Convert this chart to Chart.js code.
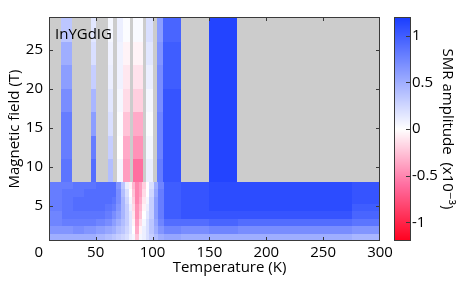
<!DOCTYPE html>
<html>
<head>
<meta charset="utf-8">
<script src="https://cdn.jsdelivr.net/npm/chart.js@4.4.0/dist/chart.umd.min.js"></script>
<style>
    html, body { margin: 0; padding: 0; background: #fff; }
    #wrap { width: 463px; height: 283px; }
</style>
</head>
<body>
<div id="wrap"><canvas id="smrChart" width="463" height="283"></canvas></div>
<script>
// axis ticks
const tempTicks = [0, 50, 100, 150, 200, 250, 300];
const fieldTicks = [5, 10, 15, 20, 25];
const colorTicks = [-1, -0.5, 0, 0.5, 1];

// low field part: full temperature sweep (cell edges in K and T)
const lowTempEdges = [9, 20, 30, 40, 50, 58, 64, 68, 72, 76, 79, 82, 85, 88, 91, 94, 97, 101, 105, 110, 125, 150, 175, 275, 300];
const lowFieldEdges = [0.5, 1.45, 2.4, 3.35, 4.3, 5.25, 6.2, 7.15, 8.1];
// one row per temperature column, values from low to high field (x10^-3)
const lowValues = [
    [0.5, 0.65, 0.75, 0.75, 0.8, 0.8, 0.8, 0.8],
    [0.5, 0.65, 0.8, 0.85, 0.85, 0.85, 0.85, 0.8],
    [0.5, 0.7, 0.8, 0.85, 0.9, 0.9, 0.85, 0.85],
    [0.5, 0.65, 0.8, 0.85, 0.9, 0.9, 0.9, 0.85],
    [0.45, 0.6, 0.75, 0.85, 0.9, 0.9, 0.9, 0.9],
    [0.4, 0.55, 0.7, 0.8, 0.85, 0.9, 0.9, 0.9],
    [0.35, 0.5, 0.6, 0.7, 0.8, 0.85, 0.9, 0.9],
    [0.3, 0.4, 0.5, 0.6, 0.65, 0.7, 0.7, 0.65],
    [0.25, 0.35, 0.4, 0.45, 0.45, 0.45, 0.4, 0.35],
    [0.2, 0.25, 0.3, 0.3, 0.3, 0.25, 0.2, 0.1],
    [0.1, 0.15, 0.15, 0.15, 0.1, 0.05, 0.0, -0.05],
    [0.05, 0.0, -0.05, -0.1, -0.15, -0.2, -0.25, -0.3],
    [-0.25, -0.35, -0.4, -0.45, -0.45, -0.5, -0.5, -0.5],
    [0.05, -0.05, -0.15, -0.25, -0.3, -0.35, -0.4, -0.4],
    [0.1, 0.1, 0.05, 0.0, -0.05, -0.1, -0.15, -0.2],
    [0.2, 0.2, 0.2, 0.15, 0.1, 0.05, 0.0, 0.0],
    [0.3, 0.35, 0.35, 0.3, 0.3, 0.3, 0.25, 0.2],
    [0.4, 0.5, 0.55, 0.6, 0.6, 0.6, 0.55, 0.5],
    [0.5, 0.65, 0.75, 0.8, 0.8, 0.8, 0.8, 0.75],
    [0.55, 0.75, 0.9, 1.0, 1.0, 1.0, 1.0, 1.0],
    [0.5, 0.7, 0.9, 1.05, 1.05, 1.05, 1.05, 1.05],
    [0.5, 0.75, 0.95, 1.05, 1.1, 1.1, 1.1, 1.1],
    [0.5, 0.7, 0.9, 1.05, 1.1, 1.1, 1.1, 1.1],
    [0.45, 0.65, 0.85, 0.95, 1.0, 1.05, 1.05, 1.05]
];

// high field part: only some temperatures were measured
const highTempStart = [19.3, 45.6, 60.8, 69, 74.3, 82.5, 94.2, 103.6, 109.2, 150];
const highTempEnd = [29.5, 50, 65, 74.3, 80.2, 91.9, 100.4, 109.2, 125, 174.5];
const highFieldEdges = [8.1, 11, 14, 17, 20, 23, 26, 29.2];
const highValues = [
    [0.85, 0.8, 0.8, 0.7, 0.6, 0.5, 0.35],
    [0.9, 0.8, 0.6, 0.45, 0.3, 0.2, 0.15],
    [0.4, 0.3, 0.2, 0.15, 0.1, 0.08, 0.05],
    [0.05, 0.0, 0.02, 0.05, 0.08, 0.08, 0.1],
    [-0.4, -0.35, -0.25, -0.15, -0.1, -0.05, 0.02],
    [-0.6, -0.45, -0.35, -0.2, -0.12, -0.05, 0.03],
    [0.1, 0.05, 0.02, 0.05, 0.1, 0.15, 0.2],
    [0.8, 0.75, 0.75, 0.7, 0.7, 0.65, 0.6],
    [1.05, 1.05, 1.05, 1.05, 1.0, 1.0, 0.95],
    [1.15, 1.15, 1.15, 1.15, 1.15, 1.15, 1.15]
];

const missingColor = 'rgb(204, 204, 204)';
const axisColor = '#3a3a3a';
const fontFamily = "'Open Sans', 'DejaVu Sans', sans-serif";

// red - white - blue map, +-1.2
function mapColor(v) {
    const t = Math.min(Math.abs(v) / 1.2, 1);
    let r, g, b;
    if (v >= 0) {
        r = 255 - t * (255 - 25);
        g = 255 - t * (255 - 60);
        b = 255;
    } else if (t < 0.5) {
        const s = t / 0.5;
        r = 255;
        g = 255 - s * (255 - 110);
        b = 255 - s * (255 - 160);
    } else {
        const s = (t - 0.5) / 0.5;
        r = 255;
        g = 110 - s * 110;
        b = 160 - s * (160 - 30);
    }
    return `rgb(${Math.round(r)}, ${Math.round(g)}, ${Math.round(b)})`;
}

function fillCell(ctx, x, y, t0, t1, f0, f1, v) {
    const px0 = Math.round(x.getPixelForValue(t0));
    const px1 = Math.round(x.getPixelForValue(t1));
    const py0 = Math.round(y.getPixelForValue(f1));
    const py1 = Math.round(y.getPixelForValue(f0));
    ctx.fillStyle = mapColor(v);
    ctx.fillRect(px0, py0, px1 - px0, py1 - py0);
}

const heatmapPlugin = {
    id: 'heatmap',
    beforeDatasetsDraw(chart) {
        const { ctx, chartArea, scales: { x, y } } = chart;
        ctx.save();
        ctx.beginPath();
        ctx.rect(chartArea.left, chartArea.top, chartArea.width, chartArea.height);
        ctx.clip();
        ctx.fillStyle = missingColor;
        ctx.fillRect(chartArea.left, chartArea.top, chartArea.width, chartArea.height);

        lowValues.forEach((col, i) => {
            col.forEach((v, j) => {
                fillCell(ctx, x, y, lowTempEdges[i], lowTempEdges[i + 1], lowFieldEdges[j], lowFieldEdges[j + 1], v);
            });
        });
        highValues.forEach((col, i) => {
            col.forEach((v, j) => {
                fillCell(ctx, x, y, highTempStart[i], highTempEnd[i], highFieldEdges[j], highFieldEdges[j + 1], v);
            });
        });
        ctx.restore();
    },
    afterDatasetsDraw(chart) {
        const { ctx, chartArea, scales: { x, y } } = chart;
        const { left, right, top, bottom } = chartArea;
        ctx.save();
        ctx.strokeStyle = axisColor;
        ctx.lineWidth = 1;
        ctx.strokeRect(left + 0.5, top + 0.5, right - left - 1, bottom - top - 1);

        // inward tick marks
        ctx.beginPath();
        tempTicks.forEach(t => {
            if (t <= x.min || t >= x.max) return;
            const px = Math.round(x.getPixelForValue(t)) + 0.5;
            ctx.moveTo(px, bottom); ctx.lineTo(px, bottom - 4);
            ctx.moveTo(px, top); ctx.lineTo(px, top + 4);
        });
        fieldTicks.forEach(f => {
            const py = Math.round(y.getPixelForValue(f)) + 0.5;
            ctx.moveTo(left, py); ctx.lineTo(left + 4, py);
            ctx.moveTo(right, py); ctx.lineTo(right - 4, py);
        });
        ctx.stroke();

        ctx.fillStyle = '#000';
        ctx.font = `15px ${fontFamily}`;
        ctx.textBaseline = 'middle';
        ctx.textAlign = 'left';
        ctx.fillText('InYGdIG', left + 6, top + 18);
        ctx.restore();
    }
};

const colorbarPlugin = {
    id: 'colorbar',
    afterDraw(chart) {
        const { ctx } = chart;
        const cb = chart.scales.cb;
        const barLeft = cb.left + 14;
        const barRight = cb.left + 31;
        const barTop = Math.round(cb.getPixelForValue(cb.max));
        const barBottom = Math.round(cb.getPixelForValue(cb.min));
        ctx.save();
        for (let py = barTop; py < barBottom; py++) {
            ctx.fillStyle = mapColor(cb.getValueForPixel(py + 0.5));
            ctx.fillRect(barLeft, py, barRight - barLeft, 1);
        }
        ctx.strokeStyle = axisColor;
        ctx.lineWidth = 1;
        ctx.strokeRect(barLeft + 0.5, barTop + 0.5, barRight - barLeft - 1, barBottom - barTop - 1);
        ctx.beginPath();
        colorTicks.forEach(v => {
            const py = Math.round(cb.getPixelForValue(v)) + 0.5;
            ctx.moveTo(barRight, py); ctx.lineTo(barRight - 5, py);
        });
        ctx.stroke();
        ctx.restore();
    }
};

function fixedSize(width, height) {
    return function(scale) {
        if (width !== null) scale.width = width;
        if (height !== null) scale.height = height;
        scale.paddingTop = 0;
        scale.paddingBottom = 0;
        scale.paddingLeft = 0;
        scale.paddingRight = 0;
    };
}

const tickFont = { family: fontFamily, size: 15 };

new Chart(document.getElementById('smrChart'), {
    type: 'scatter',
    data: { datasets: [{ data: [], xAxisID: 'x', yAxisID: 'y' }] },
    options: {
        responsive: false,
        animation: false,
        devicePixelRatio: 1,
        layout: { padding: { top: 17, right: 0, bottom: 0, left: 0 } },
        plugins: {
            legend: { display: false },
            tooltip: { enabled: false }
        },
        scales: {
            x: {
                type: 'linear',
                position: 'bottom',
                min: 9,
                max: 300,
                afterBuildTicks: s => { s.ticks = tempTicks.map(v => ({ value: v })); },
                afterFit: fixedSize(null, 42),
                grid: { display: false, drawTicks: false },
                border: { display: false },
                ticks: { autoSkip: false, maxRotation: 0, padding: 3, color: '#000', font: tickFont, callback: v => String(v) },
                title: {
                    display: true,
                    text: '\u2003\u2003Temperature (K)',
                    color: '#000',
                    font: tickFont,
                    padding: { top: 0, bottom: 6 }
                }
            },
            y: {
                type: 'linear',
                position: 'left',
                min: 0.5,
                max: 29.2,
                afterBuildTicks: s => { s.ticks = fieldTicks.map(v => ({ value: v })); },
                afterFit: fixedSize(49, null),
                grid: { display: false, drawTicks: false },
                border: { display: false },
                ticks: { autoSkip: false, padding: 6, color: '#000', font: tickFont, callback: v => String(v) },
                title: {
                    display: true,
                    text: 'Magnetic field (T)',
                    color: '#000',
                    font: tickFont,
                    padding: { top: 6, bottom: 0 }
                }
            },
            cb: {
                type: 'linear',
                position: 'right',
                min: -1.2,
                max: 1.2,
                afterBuildTicks: s => { s.ticks = colorTicks.map(v => ({ value: v })); },
                afterFit: fixedSize(83, null),
                grid: { display: false, drawTicks: false },
                border: { display: false },
                ticks: { autoSkip: false, padding: 32, color: '#000', font: tickFont, callback: v => String(v) },
                title: {
                    display: true,
                    text: 'SMR amplitude  (x10\u207B\u00B3)',
                    color: '#000',
                    font: tickFont,
                    padding: { top: 7, bottom: 0 }
                }
            }
        }
    },
    plugins: [heatmapPlugin, colorbarPlugin]
});
</script>
</body>
</html>
